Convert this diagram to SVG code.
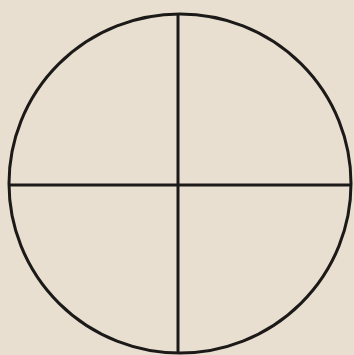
<svg xmlns="http://www.w3.org/2000/svg" width="354" height="355" viewBox="0 0 354 355">
<style>.s{fill:none;stroke:#1c1a18;stroke-width:3}</style>
<rect width="354" height="355" fill="#e9dfd0"/>
<g id="circle"><ellipse class="s" cx="180" cy="183.5" rx="171" ry="169.5"/></g>
<g id="connectors">
<line class="s" x1="9" y1="185" x2="351" y2="185"/>
<line class="s" x1="178" y1="14" x2="178" y2="353"/>
</g>
</svg>
